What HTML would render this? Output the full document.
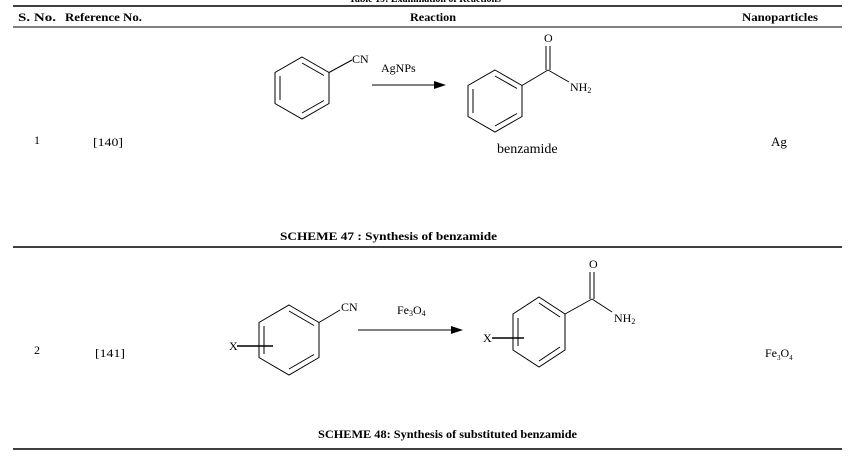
<!DOCTYPE html>
<html><head><meta charset="utf-8"><style>
html,body{margin:0;padding:0;background:#fff;}
svg{display:block;font-family:"Liberation Serif",serif;}
</style></head><body>
<svg width="850" height="458" viewBox="0 0 850 458" xmlns="http://www.w3.org/2000/svg">
<g fill="#000" font-size="12">
<text x="425" y="2" text-anchor="middle" font-weight="bold" font-size="10">Table 19: Examination of Reactions</text>
<line x1="13" y1="6" x2="842" y2="6" stroke="#000" stroke-width="1.5"/>
<text x="18" y="21" font-weight="bold" textLength="38" lengthAdjust="spacingAndGlyphs">S. No.</text>
<text x="65" y="21" font-weight="bold" textLength="77" lengthAdjust="spacingAndGlyphs">Reference No.</text>
<text x="410" y="21" font-weight="bold" textLength="46" lengthAdjust="spacingAndGlyphs">Reaction</text>
<text x="742" y="21" font-weight="bold" textLength="76" lengthAdjust="spacingAndGlyphs">Nanoparticles</text>
<line x1="13" y1="27" x2="842" y2="27" stroke="#000" stroke-width="1"/>

<text x="34" y="144">1</text>
<text x="93" y="146" textLength="30" lengthAdjust="spacingAndGlyphs">[140]</text>
<text x="771" y="146" font-size="13">Ag</text>
<text x="280" y="240" font-weight="bold" textLength="217" lengthAdjust="spacingAndGlyphs">SCHEME 47 : Synthesis of benzamide</text>
<line x1="13" y1="247" x2="842" y2="247" stroke="#000" stroke-width="1.5"/>

<text x="34" y="354">2</text>
<text x="95" y="357" textLength="30" lengthAdjust="spacingAndGlyphs">[141]</text>
<text x="765" y="357" font-size="12">Fe<tspan font-size="7" dy="3">3</tspan><tspan dy="-3">O</tspan><tspan font-size="7" dy="3">4</tspan></text>
<text x="318" y="438" font-weight="bold" textLength="259" lengthAdjust="spacingAndGlyphs">SCHEME 48: Synthesis of substituted benzamide</text>
<line x1="13" y1="449" x2="842" y2="449" stroke="#000" stroke-width="1.5"/>
</g>

<g stroke="#000" stroke-width="1" fill="none">
<polygon points="302,57 329,72.5 329,103.5 302,119 275,103.5 275,72.5"/>
<line x1="280" y1="76" x2="280" y2="100"/>
<line x1="302" y1="63" x2="324" y2="75.5"/>
<line x1="302" y1="113" x2="324" y2="100.5"/>
<line x1="329" y1="72.5" x2="352" y2="60"/>
<line x1="372" y1="85" x2="438" y2="85"/>
<polygon points="495,70 522,85.5 522,116.5 495,132 468,116.5 468,85.5"/>
<line x1="473" y1="89" x2="473" y2="113"/>
<line x1="495" y1="76" x2="517" y2="88.5"/>
<line x1="495" y1="126" x2="517" y2="113.5"/>
<line x1="522" y1="85.5" x2="548" y2="70"/>
<line x1="546" y1="70" x2="546" y2="46"/>
<line x1="550" y1="70" x2="550" y2="46"/>
<line x1="548" y1="70" x2="569" y2="82"/>

<polygon points="289,305 319,322.5 319,357.5 289,375 259,357.5 259,322.5"/>
<line x1="264" y1="326" x2="264" y2="354"/>
<line x1="289" y1="311" x2="314" y2="325.5"/>
<line x1="289" y1="369" x2="314" y2="354.5"/>
<line x1="319" y1="322.5" x2="340" y2="310"/>
<line x1="237" y1="346" x2="273" y2="346" stroke-width="1.5"/>
<line x1="358" y1="330" x2="455" y2="330"/>
<polygon points="539,297 565,314 565,350 539,367 513,350 513,314"/>
<line x1="518" y1="318" x2="518" y2="346"/>
<line x1="539" y1="303" x2="560" y2="317"/>
<line x1="539" y1="361" x2="560" y2="347"/>
<line x1="565" y1="314" x2="592" y2="299"/>
<line x1="590" y1="299" x2="590" y2="272"/>
<line x1="594" y1="299" x2="594" y2="272"/>
<line x1="592" y1="299" x2="612" y2="312"/>
<line x1="492" y1="338" x2="524" y2="338" stroke-width="1.5"/>
</g>
<g fill="#000">
<polygon points="446,85 434,81 434,89"/>
<polygon points="463,330 451,326 451,334"/>
</g>
<g fill="#000" font-size="12" font-family="Liberation Serif,serif">
<text x="352" y="63">CN</text>
<text x="381" y="72">AgNPs</text>
<text x="544" y="42">O</text>
<text x="570" y="91">NH<tspan font-size="8" dy="2">2</tspan></text>
<text x="497" y="153" font-size="14">benzamide</text>

<text x="341" y="311">CN</text>
<text x="397" y="314">Fe<tspan font-size="8" dy="2">3</tspan><tspan dy="-2">O</tspan><tspan font-size="8" dy="2">4</tspan></text>
<text x="229" y="350">X</text>
<text x="589" y="268">O</text>
<text x="614" y="322">NH<tspan font-size="8" dy="2">2</tspan></text>
<text x="483" y="342">X</text>
</g>
</svg>
</body></html>
